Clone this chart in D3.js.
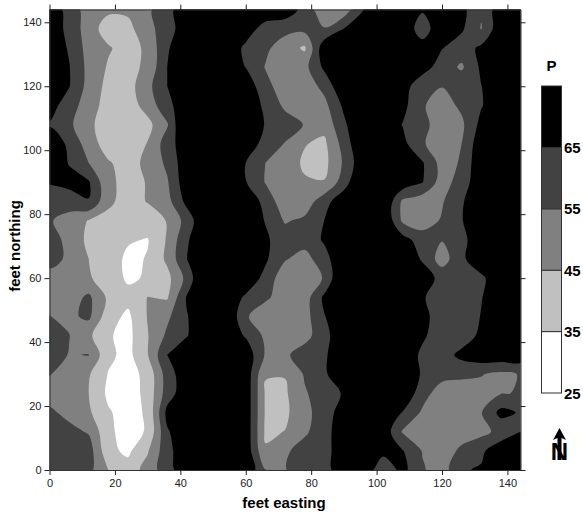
<!DOCTYPE html>
<html>
<head>
<meta charset="utf-8">
<style>html,body{margin:0;padding:0;background:#fff}svg{display:block}text{font-family:"Liberation Sans",Arial,sans-serif}</style>
<script src="https://cdn.jsdelivr.net/npm/d3@7"></script>
</head>
<body>
<svg id="c" width="583" height="515"></svg>
<script>
const gridStepFeet = 6;
const eastings = [0,6,12,18,24,30,36,42,48,54,60,66,72,78,84,90,96,102,108,114,120,126,132,138,144];
const northings = [144,138,132,126,120,114,108,102,96,90,84,78,72,66,60,54,48,42,36,30,24,18,12,6,0];
const row144 = [72,61,50,47,47,53,62,71,72,72,72,72,72,61,48,49,65,72,72,66,72,68,56,71.4,72];
const row138 = [72,62,50,40,42,52,60,72,72,72,70,61,58,58,55.5,65,72,72,72,60,72,66.5,54.5,72.5,72];
const row132 = [72,64,51,46,41,47,64,72,72,72,63,57,50,43.5,72,72,72,72,72,69,65.5,60,67,72,72];
const row126 = [72,65.5,52,44,42,47,65,72,72,72,64.7,54.5,50,52,67,72,72,72,72,70,60,53.5,66.8,72,72];
const row120 = [72,65.5,51.5,42,41,52,65,72,72,72,72,58,50,49,58,74,72,72,70,57.5,55.3,62,64.8,72,72];
const row114 = [69,60,49.5,41,40,49,62,72,72,72,72,63,53,47,52,67,72,72,68,56,50.5,57,64.3,72,72];
const row108 = [64,57,47.5,39,38,42,54,80,72,72,72,64.5,60,54.5,48,63,76,72,64.6,58,50,53,68,72,72];
const row102 = [72,63,50,40,38,45.5,60,72,72,72,72,61,54.5,45.5,43,59,76,72,68,56,50,55,72,72,72];
const row96  = [72,64.5,55,46,41,47.5,57,72,72,72,65,55,50,43.5,42,56.5,73,72,72,66,51,56,74,72,72];
const row90  = [66,68,66,47,42,45.5,54,72,72,72,65.5,54.5,51,46,45.5,60,78,72,72,65.5,50,60,72,72,72];
const row84  = [58,60,64.8,47,41,45.5,51.5,68,72,72,72,62,48,49,61,72,72,76,53,49,54,64,72,72,72];
const row78  = [56,51,44.5,42,40,40,45.5,59,76,72,72,64.5,54,57,65,72,72,76,53,50,56,64.5,72,72,72];
const row72  = [61,51,43,40,36,34.5,46,64,72,72,72,66.5,60,60,66,72,72,72,69,60,55.5,62,72,72,72];
const row66  = [61,52,45,40,33,35.5,47,65,72,72,72,66.5,56,50.5,62,72,72,72,72,64,50,63,72,72,72];
const row60  = [49,47,46,40.5,33.5,36,42,58,80,72,72,62,48,47,56,78,72,72,72,70,62,58,63,72,72];
const row54  = [50,50,57,43,38,45.2,44,66,72,72,63.5,56.5,51,50,67,72,72,72,72,66,60,60,64.5,72,72];
const row48  = [55.2,53,57,39,33,45.5,53,64.5,72,76,56,50,50,51,64.5,72,72,72,72,68,60,58,65.5,72,72];
const row42  = [59,55.3,47,36,32,44.5,57,64.5,72,72,64,53,49,51,62,72,72,72,72,66.5,60,59,67.5,72,72];
const row36  = [60,54.5,55.3,37,32,44.5,65,72,72,72,72,54,53,60.5,64,70,72,72,72,63,60,68,72,72,72];
const row30  = [55.5,51,46,34.5,31,38,60,72,72,72,72,45.5,45.5,56,64,70,72,72,72,64,58.5,57,55.5,53,55.5];
const row24  = [50,48,45,33,30,38,60,72,72,72,72,44,43.5,54,60,66,72,72,74,59,50,50,52,54.5,55.5];
const row18  = [57,52,46.5,36,31,36.5,68,72,72,72,72,44,43,52,60,70,72,72,64.5,53.5,49,48,54.5,68,64];
const row12  = [60,58,54,37,31,36,64,72,72,72,72,43.5,45.2,53,62,70,72,72,54,48,47,48,52,58,65];
const row6   = [60,60,60,37.5,33,44,62,72,72,72,72,46,53,60,62,70,72,68,65.5,54.5,47,58,63,72,72];
const row0   = [62,62,58,45,39,49,61,72,72,72,74,55.2,54.5,60,62,70,72,58,68,56,50,64,66,72,72];
const rows = [row144,row138,row132,row126,row120,row114,row108,row102,row96,row90,row84,row78,row72,row66,row60,row54,row48,row42,row36,row30,row24,row18,row12,row6,row0];

const levels = [25,35,45,55,65,75];
const legendLabels = ["25","35","45","55","65"];
const bandColors = ["#ffffff","#c0c0c0","#808080","#424242","#000000"];
const axisTicks = [0,20,40,60,80,100,120,140];

const svg = d3.select("#c");
const x = d3.scaleLinear().domain([0,144]).range([49.5,520.5]);
const y = d3.scaleLinear().domain([0,144]).range([470,9.5]);

svg.append("clipPath").attr("id","plot").append("rect")
  .attr("x",x(0)).attr("y",y(144)).attr("width",x(144)-x(0)).attr("height",y(0)-y(144));

const plot = svg.append("g").attr("clip-path","url(#plot)");
plot.append("rect").attr("x",x(0)).attr("y",y(144)).attr("width",x(144)-x(0)).attr("height",y(0)-y(144)).attr("fill",bandColors[0]);

const flat = rows.flat();
const contours = d3.contours().size([eastings.length,northings.length]).thresholds(levels.slice(1,5))(flat);
// contour coordinates: sample i sits at i+0.5
const toFeetX = c => (c-0.5)*gridStepFeet;
const toFeetY = c => 144-(c-0.5)*gridStepFeet;
const ringLine = d3.line().x(p=>x(toFeetX(p[0]))).y(p=>y(toFeetY(p[1]))).curve(d3.curveCatmullRomClosed.alpha(0.5));
const smoothPath = c => c.coordinates.flatMap(poly=>poly.map(ring=>ringLine(ring.slice(0,-1)))).join("");
plot.selectAll("path.band").data(contours).join("path").attr("class","band")
  .attr("d",smoothPath).attr("fill-rule","evenodd").attr("fill",(d,i)=>bandColors[i+1]);

function styleAxis(g){
  g.selectAll("text").attr("font-size",11).attr("fill","#222");
  g.selectAll("line").attr("stroke","#222");
  g.select(".domain").attr("stroke","#333");
}
svg.append("g").attr("transform",`translate(0,${y(0)})`).call(d3.axisBottom(x).tickValues(axisTicks).tickSize(5).tickPadding(4).tickSizeOuter(0)).call(styleAxis);
svg.append("g").attr("transform",`translate(${x(0)},0)`).call(d3.axisLeft(y).tickValues(axisTicks).tickSize(5).tickPadding(3).tickSizeOuter(0)).call(styleAxis);
svg.append("g").attr("transform",`translate(0,${y(144)})`).call(d3.axisTop(x).tickValues(axisTicks).tickFormat("").tickSize(5).tickSizeOuter(0)).call(styleAxis);
svg.append("g").attr("transform",`translate(${x(144)},0)`).call(d3.axisRight(y).tickValues(axisTicks).tickFormat("").tickSize(5).tickSizeOuter(0)).call(styleAxis);

svg.append("text").attr("x",284).attr("y",508).attr("text-anchor","middle").attr("font-weight","bold").attr("font-size",15).attr("fill","#000").text("feet easting");
svg.append("text").attr("transform","translate(20,246) rotate(-90)").attr("text-anchor","middle").attr("font-weight","bold").attr("font-size",15).attr("fill","#000").text("feet northing");

// legend
const legendY = d3.scaleLinear().domain([25,75]).range([393,86]);
const legend = svg.append("g");
legend.selectAll("rect").data(d3.range(levels.length-1)).join("rect")
  .attr("x",541.5).attr("width",20)
  .attr("y",i=>legendY(levels[i+1])).attr("height",i=>legendY(levels[i])-legendY(levels[i+1]))
  .attr("fill",i=>bandColors[i]).attr("stroke","#333").attr("stroke-width",1);
legend.selectAll("text").data(legendLabels).join("text")
  .attr("x",564).attr("y",d=>legendY(+d)+5.5).attr("font-weight","bold").attr("font-size",15).attr("fill","#000").text(d=>d);
svg.append("text").attr("x",551.5).attr("y",71).attr("text-anchor","middle").attr("font-weight","bold").attr("font-size",15).attr("fill","#000").text("P");

// north arrow
const north = svg.append("g");
north.append("path").attr("d","M559.5 428 L566 440 L561.5 438 L561.5 460 L557.5 460 L557.5 438 L553 440 Z").attr("fill","#000");
north.append("text").attr("x",559.5).attr("y",460).attr("text-anchor","middle").attr("font-weight","bold").attr("font-size",24).attr("fill","#000").text("N");
</script>
</body>
</html>
